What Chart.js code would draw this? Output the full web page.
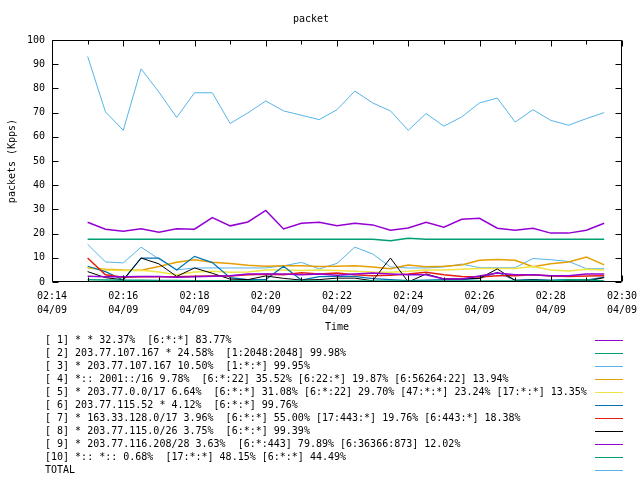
<!DOCTYPE html>
<html><head><meta charset="utf-8">
<script src="https://cdn.jsdelivr.net/npm/chart.js@4/dist/chart.umd.min.js"></script>
<style>html,body{margin:0;padding:0;background:#fff;}#wrap{width:640px;height:480px;}</style>
</head><body><div id="wrap"><canvas id="c" width="640" height="480"></canvas></div>
<script>
// sample times (every 30 s)
const times = ['02:15:00','02:15:30','02:16:00','02:16:30','02:17:00','02:17:30','02:18:00','02:18:30','02:19:00','02:19:30',
               '02:20:00','02:20:30','02:21:00','02:21:30','02:22:00','02:22:30','02:23:00','02:23:30','02:24:00','02:24:30',
               '02:25:00','02:25:30','02:26:00','02:26:30','02:27:00','02:27:30','02:28:00','02:28:30','02:29:00','02:29:30'];
const axisStart = '02:14';
const axisEnd = '02:30';
const tickLabels = ['02:14','02:16','02:18','02:20','02:22','02:24','02:26','02:28','02:30'];
const tickDate = '04/09';
const yTicks = [0,10,20,30,40,50,60,70,80,90,100];

const seriesNames = [
  '[ 1] * * 32.37%  [6:*:*] 83.77%',
  '[ 2] 203.77.107.167 * 24.58%  [1:2048:2048] 99.98%',
  '[ 3] * 203.77.107.167 10.50%  [1:*:*] 99.95%',
  '[ 4] *:: 2001::/16 9.78%  [6:*:22] 35.52% [6:22:*] 19.87% [6:56264:22] 13.94%',
  '[ 5] * 203.77.0.0/17 6.64%  [6:*:*] 31.08% [6:*:22] 29.70% [47:*:*] 23.24% [17:*:*] 13.35%',
  '[ 6] 203.77.115.52 * 4.12%  [6:*:*] 99.76%',
  '[ 7] * 163.33.128.0/17 3.96%  [6:*:*] 55.00% [17:443:*] 19.76% [6:443:*] 18.38%',
  '[ 8] * 203.77.115.0/26 3.75%  [6:*:*] 99.39%',
  '[ 9] * 203.77.116.208/28 3.63%  [6:*:443] 79.89% [6:36366:873] 12.02%',
  '[10] *:: *:: 0.68%  [17:*:*] 48.15% [6:*:*] 44.49%',
  'TOTAL'
];
const seriesColors = ['#9400D3','#009E73','#56B4E9','#E69F00','#F0E442','#0072B2','#E51E10','#000000','#9400D3','#009E73','#56B4E9'];
const seriesWidths = [1.5,1.5,1,1.5,1.5,1.2,1.5,1,1.5,1.5,1];

const s1 = [24.7,21.8,21.0,22.0,20.6,22.0,21.8,26.6,23.2,24.8,29.6,21.9,24.3,24.7,23.2,24.3,23.6,21.4,22.3,24.7,22.6,25.9,26.3,22.2,21.4,22.2,20.2,20.2,21.4,24.3];
const s2 = [17.7,17.7,17.7,17.7,17.7,17.7,17.7,17.7,17.7,17.7,17.7,17.7,17.7,17.7,17.7,17.7,17.7,17.0,18.1,17.7,17.7,17.7,17.7,17.7,17.7,17.7,17.7,17.7,17.7,17.7];
const s3 = [15.6,8.3,7.9,14.4,9.5,5.0,5.8,5.8,5.8,5.8,5.8,6.7,8.1,5.4,7.7,14.4,11.6,6.2,5.8,5.8,6.2,7.4,5.9,5.9,5.9,9.7,9.2,8.5,5.5,5.5];
const s4 = [5.8,5.3,5.0,4.9,6.4,8.2,9.2,8.2,7.6,6.9,6.5,6.7,6.7,6.4,6.5,6.7,6.2,5.5,7.0,6.3,6.5,7.0,9.0,9.3,9.0,6.3,7.5,8.3,10.3,7.1];
const s5 = [6.0,5.0,4.8,4.9,4.1,3.0,4.1,4.4,4.0,4.1,5.0,5.0,4.8,5.0,4.8,4.4,4.1,4.0,4.4,5.0,5.0,5.3,5.6,5.6,5.6,6.4,5.0,4.5,5.3,5.0];
const s6 = [6.5,4.3,0.8,9.9,9.9,5.0,10.6,8.0,1.8,1.0,1.0,6.5,0.8,2.2,2.3,2.3,1.4,1.0,0.6,0.8,1.0,1.0,1.5,4.0,0.8,1.0,0.8,1.0,0.8,2.0];
const s7 = [9.9,3.0,2.0,2.2,2.2,2.2,2.4,2.5,2.5,3.0,3.2,3.0,3.8,3.3,3.7,3.0,2.6,2.8,3.3,4.0,3.0,2.3,2.1,2.6,2.6,3.0,2.5,2.3,2.5,2.6];
const s8 = [4.3,1.8,0.9,9.9,7.5,2.3,5.8,3.6,1.2,1.0,2.5,1.5,0.8,1.0,1.6,1.6,0.5,9.9,0.0,3.3,1.3,1.3,1.5,5.4,0.6,0.8,0.6,0.5,0.4,1.8];
const s9 = [2.4,2.2,2.2,2.3,2.3,2.0,2.2,2.4,2.6,3.3,3.3,3.3,3.0,3.3,2.8,3.3,3.7,3.3,3.0,3.0,1.2,1.2,2.5,3.7,3.0,3.0,2.6,2.6,3.3,3.3];
const s10 = [0.9,0.8,0.7,0.7,0.6,0.6,0.5,0.5,0.5,0.5,0.4,0.4,0.4,0.4,0.4,0.4,0.4,0.4,0.4,0.4,0.4,0.4,0.4,0.4,0.4,0.4,0.4,0.9,0.9,0.4];
const total = [93.2,70.3,62.7,88.1,78.5,68.0,78.2,78.2,65.5,69.9,74.8,70.7,68.9,67.1,71.2,78.9,74.0,70.7,62.7,69.6,64.4,68.2,74.0,76.0,66.1,71.2,66.8,64.8,67.5,70.0];

const allSeries = [s1,s2,s3,s4,s5,s6,s7,s8,s9,s10,total];

function toMin(t){ const p=t.split(':').map(Number); return p[0]*60+p[1]+(p[2]||0)/60; }
const t0 = toMin(axisStart), t1 = toMin(axisEnd);
const xs = times.map(t => toMin(t) - t0);

const FONT = "'DejaVu Sans Mono', monospace";

const datasets = allSeries.map((vals, k) => ({
  label: seriesNames[k],
  data: vals.map((v, i) => ({x: xs[i], y: v})),
  borderColor: seriesColors[k],
  backgroundColor: seriesColors[k],
  borderWidth: seriesWidths[k],
  pointRadius: 0,
  tension: 0,
  fill: false,
  order: allSeries.length - k
}));

const framePlugin = {
  id: 'frame',
  afterDraw(chart) {
    const {ctx, chartArea: a, scales: {x, y}} = chart;
    ctx.save();
    ctx.strokeStyle = '#000';
    ctx.lineWidth = 1;
    ctx.beginPath();
    const L = Math.round(a.left) + 0.5, R = Math.round(a.right) - 0.5;
    const T = Math.round(a.top) + 0.5, B = Math.round(a.bottom) - 0.5;
    ctx.rect(L, T, R - L, B - T);
    yTicks.forEach(v => {
      const py = Math.round(y.getPixelForValue(v)) + 0.5;
      ctx.moveTo(L, py); ctx.lineTo(L + 6, py);
      ctx.moveTo(R, py); ctx.lineTo(R - 6, py);
    });
    for (let m = 0; m <= t1 - t0; m++) {
      const px = Math.round(x.getPixelForValue(m)) + 0.5;
      const len = (m % 2) ? 4 : 6;
      ctx.moveTo(px, B); ctx.lineTo(px, B - len);
      ctx.moveTo(px, T); ctx.lineTo(px, T + len);
    }
    ctx.stroke();
    // key
    ctx.font = '10px ' + FONT;
    ctx.textBaseline = 'middle';
    ctx.textAlign = 'left';
    chart.data.datasets.forEach((ds, i) => {
      const ry = 340 + 13 * i;
      ctx.fillStyle = '#000';
      ctx.fillText(ds.label, 45, ry);
      ctx.strokeStyle = ds.borderColor;
      ctx.lineWidth = 1;
      ctx.beginPath();
      ctx.moveTo(595, ry + 0.5); ctx.lineTo(623, ry + 0.5);
      ctx.stroke();
    });
    ctx.restore();
  }
};

new Chart(document.getElementById('c'), {
  type: 'line',
  data: { datasets },
  options: {
    responsive: false,
    animation: false,
    devicePixelRatio: 1,
    layout: { padding: { left: 0, right: 18, top: 0, bottom: 146 } },
    plugins: {
      legend: { display: false },
      tooltip: { enabled: false },
      title: {
        display: true, text: 'packet', color: '#000',
        font: { family: FONT, size: 10, weight: 'normal', lineHeight: 1.2 },
        padding: { top: 13, bottom: 15 }
      }
    },
    scales: {
      x: {
        type: 'linear', min: 0, max: t1 - t0,
        grid: { display: false, drawTicks: false },
        border: { display: false },
        ticks: {
          stepSize: 1, autoSkip: false, maxRotation: 0, minRotation: 0,
          padding: 7, color: '#000',
          font: { family: FONT, size: 10, lineHeight: 1.4 },
          callback: (v) => {
            const idx = v / 2;
            return Number.isInteger(idx) && tickLabels[idx] ? [tickLabels[idx], tickDate] : '';
          }
        },
        title: { display: true, text: 'Time', color: '#000',
          font: { family: FONT, size: 10, lineHeight: 1.2 }, padding: { top: 0, bottom: 1 } },
        afterFit: (s) => { s.height = 52; s.paddingLeft = 0; s.paddingRight = 0; }
      },
      y: {
        min: 0, max: 100,
        grid: { display: false, drawTicks: false },
        border: { display: false },
        ticks: { stepSize: 10, padding: 7, color: '#000', font: { family: FONT, size: 10 } },
        title: { display: true, text: 'packets (Kpps)', color: '#000',
          font: { family: FONT, size: 10, lineHeight: 1.2 }, padding: { top: 6, bottom: 0 } },
        afterFit: (s) => { s.width = 52; s.paddingTop = 0; s.paddingBottom = 0; }
      }
    }
  },
  plugins: [framePlugin]
});
</script>
</body></html>
